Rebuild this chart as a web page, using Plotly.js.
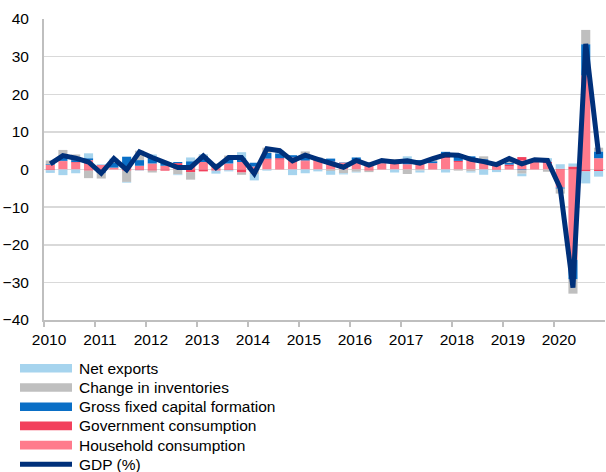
<!DOCTYPE html>
<html>
<head>
<meta charset="utf-8">
<script src="https://cdn.plot.ly/plotly-3.0.1.min.js"></script>
<style>html,body{margin:0;padding:0;background:#fff;}#chart{width:606px;height:472px;}</style>
</head>
<body>
<div id="chart"></div>
<script>
// Quarter start dates (2010Q1 .. 2020Q4)
const quarters = [
 '2010-01-01','2010-04-01','2010-07-01','2010-10-01',
 '2011-01-01','2011-04-01','2011-07-01','2011-10-01',
 '2012-01-01','2012-04-01','2012-07-01','2012-10-01',
 '2013-01-01','2013-04-01','2013-07-01','2013-10-01',
 '2014-01-01','2014-04-01','2014-07-01','2014-10-01',
 '2015-01-01','2015-04-01','2015-07-01','2015-10-01',
 '2016-01-01','2016-04-01','2016-07-01','2016-10-01',
 '2017-01-01','2017-04-01','2017-07-01','2017-10-01',
 '2018-01-01','2018-04-01','2018-07-01','2018-10-01',
 '2019-01-01','2019-04-01','2019-07-01','2019-10-01',
 '2020-01-01','2020-04-01','2020-07-01','2020-10-01'
];
const yearTicks = ['2010-01-01','2011-01-01','2012-01-01','2013-01-01','2014-01-01','2015-01-01',
                   '2016-01-01','2017-01-01','2018-01-01','2019-01-01','2020-01-01'];
const yearLabels = ['2010','2011','2012','2013','2014','2015','2016','2017','2018','2019','2020'];

const household = [1.2,2.2,1.8,2.5, 1.2,0.5,0.9,1.0, 1.6,1.0,1.2,1.0, 2.0,0.8,1.6,2.0,
                   0.8,2.6,2.6,3.0, 2.2,2.3,1.8,1.6, 2.0,1.8,1.6,1.8, 1.4,2.0,1.6,3.0,
                   2.0,2.5,2.3,1.5, 0.8,2.5,2.1,1.6, -4.8,-24.0,25.0,3.0];
const government = [-0.2,0.1,0.2,-0.3, -0.7,0.0,-0.3,-0.2, -0.3,-0.3,0.5,-0.7, -0.5,-0.3,-0.2,-0.8,
                    0.0,0.3,0.4,0.2, 0.2,0.3,0.3,0.2, 0.4,-0.3,0.1,0.1, 0.0,0.0,0.1,0.5,
                    0.3,0.4,0.3,-0.1, 0.5,0.8,0.3,0.4, 0.2,0.8,-0.5,-0.4];
const gfcf = [0.2,0.8,0.5,0.5, -0.2,1.3,2.5,1.5, 1.8,0.8,0.3,1.2, 1.6,0.6,1.3,1.0,
              1.0,1.5,1.3,0.6, 0.8,0.5,0.8,0.1, 0.8,0.1,0.3,0.4, 1.0,0.5,0.5,1.2,
              1.6,0.6,0.2,0.4, 0.5,-0.2,0.2,0.0, -0.3,-5.2,8.3,1.8];
const inventories = [1.0,2.1,1.5,-2.0, -1.5,0.2,-3.0,2.5, -0.5,0.0,-1.3,-2.0, 0.3,0.2,0.8,-0.6,
                     -1.2,1.4,0.0,0.0, 1.6,0.1,-0.4,-1.0, -0.6,-0.4,0.2,0.5, -1.2,-0.3,0.5,0.0,
                     -0.3,-0.5,0.7,0.1, 0.6,-0.9,0.0,-0.6, -1.3,-3.8,3.8,1.0];
const netExports = [-0.7,-1.5,-1.0,1.3, 0.2,0.9,-0.2,-0.1, 0.6,0.2,-0.2,1.0, 0.2,-0.8,-0.3,1.6,
                    -1.7,-0.3,0.7,-1.5, -1.0,-0.5,-1.0,-0.3, -0.2,0.0,0.2,-0.8, 1.1,-0.5,0.2,-0.8,
                    0.2,-0.3,-1.4,-0.6, 0.5,-0.7,0.0,1.0, 1.2,0.8,-3.2,-1.5];
const gdp = [1.5,3.7,3.0,2.0, -1.0,2.9,-0.1,4.7, 3.2,1.7,0.5,0.5, 3.6,0.5,3.2,3.2,
             -1.1,5.5,5.0,2.3, 3.8,2.7,1.5,0.6, 2.4,1.2,2.4,2.0, 2.3,1.7,2.9,3.9,
             3.8,2.7,2.1,1.3, 2.9,1.5,2.6,2.4, -5.0,-31.4,33.4,4.1];

const seriesNames = ['Household consumption','Government consumption','Gross fixed capital formation',
                     'Change in inventories','Net exports'];
const seriesData = [household, government, gfcf, inventories, netExports];
const colors = ['#ff7b8c','#f2405c','#0a6fc6','#bfbfbf','#a6d4ee'];
const gdpColor = '#00307a';

const traces = seriesData.map((d, i) => ({
  type: 'bar', name: seriesNames[i], x: quarters, y: d,
  xperiod: 'M3', xperiodalignment: 'middle',
  marker: {color: colors[i], line: {width: 0}},
  hoverinfo: 'skip'
}));
traces.push({
  type: 'scatter', mode: 'lines', name: 'GDP (%)', x: quarters, y: gdp,
  xperiod: 'M3', xperiodalignment: 'middle',
  line: {color: gdpColor, width: 5}
});

// custom legend (pixel positions converted to paper coordinates)
const W = 606, H = 472, ML = 44, MR = 1, MT = 19, MB = 152;
const pw = W - ML - MR, ph = H - MT - MB;
const px = v => (v - ML) / pw;
const py = v => (H - MB - v) / ph;
const legendItems = ['Net exports','Change in inventories','Gross fixed capital formation',
                     'Government consumption','Household consumption','GDP (%)'];
const legendColors = ['#a6d4ee','#bfbfbf','#0a6fc6','#f2405c','#ff7b8c',gdpColor];
const shapes = [], annotations = [];
legendItems.forEach((t, i) => {
  const yc = 368.3 + i * 19.2;
  if (i < 5) {
    shapes.push({type:'rect', xref:'paper', yref:'paper', x0: px(20), x1: px(72), y0: py(yc + 4.3), y1: py(yc - 4.3),
                 fillcolor: legendColors[i], line: {width: 0}});
  } else {
    shapes.push({type:'line', xref:'paper', yref:'paper', x0: px(20), x1: px(72), y0: py(yc), y1: py(yc),
                 line: {color: legendColors[i], width: 5}});
  }
  annotations.push({xref:'paper', yref:'paper', x: px(77), y: py(yc), xanchor:'left', yanchor:'middle',
                    text: t, showarrow:false, font:{family:'Liberation Sans, Arial, sans-serif', size:15.5, color:'#000'}});
});

const layout = {
  width: W, height: H,
  margin: {l: ML, r: MR, t: MT, b: MB, pad: 0},
  paper_bgcolor: '#fff', plot_bgcolor: '#fff',
  barmode: 'relative', bargap: 0.28,
  showlegend: false,
  font: {family: 'Liberation Sans, Arial, sans-serif', size: 15.5, color: '#000'},
  xaxis: {
    type: 'date', range: ['2010-01-01','2021-01-01'],
    tickvals: yearTicks, ticktext: yearLabels,
    ticks: 'outside', ticklen: 5, tickwidth: 1.5, tickcolor: '#bfbfbf',
    ticklabelshift: 5, ticklabelstandoff: -1,
    showline: true, linecolor: '#bfbfbf', linewidth: 2,
    showgrid: false, zeroline: false, fixedrange: true
  },
  yaxis: {
    range: [-40, 40], dtick: 10, tick0: 0,
    ticks: 'outside', ticklen: 10, tickcolor: 'rgba(0,0,0,0)',
    showline: true, linecolor: '#bfbfbf', linewidth: 2,
    showgrid: true, gridcolor: '#d9d9d9', gridwidth: 1.5,
    zeroline: false, fixedrange: true
  },
  shapes: shapes,
  annotations: annotations
};

Plotly.newPlot('chart', traces, layout, {displayModeBar: false, staticPlot: true});
</script>
</body>
</html>
